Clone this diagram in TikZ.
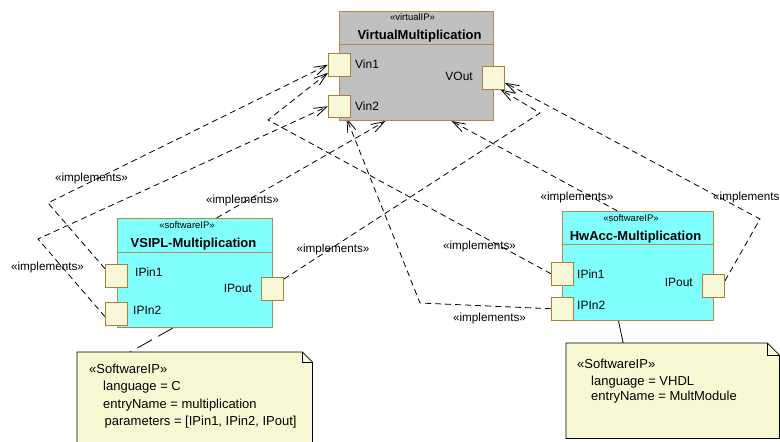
\documentclass[tikz,border=0pt]{standalone}
\usepackage{fontspec}
\setmainfont{Liberation Sans}
\usetikzlibrary{arrows.meta,calc}
\definecolor{boxbrd}{RGB}{176,140,72}
\definecolor{vmgray}{RGB}{192,192,192}
\definecolor{swcyan}{RGB}{128,255,255}
\definecolor{portfill}{RGB}{248,248,216}
\definecolor{portbrd}{RGB}{170,128,56}
\definecolor{notefill}{RGB}{248,248,210}
\pgfdeclarelayer{bg}
\pgfsetlayers{bg,main}
\begin{document}
\begin{tikzpicture}[x=1pt,y=-1pt,
  comp/.style={draw=boxbrd, line width=1pt, rectangle, inner sep=0pt, anchor=north west},
  port/.style={draw=portbrd, fill=portfill, line width=1pt, rectangle, inner sep=0pt,
               minimum width=22pt, minimum height=22.5pt, anchor=north west},
  dep/.style={draw=black, line width=0.8pt, dash pattern=on 6pt off 4pt,
              -{Straight Barb[length=13pt,width=8.5pt,line width=0.8pt]}},
  nline/.style={draw=black, line width=0.8pt},
  stereo/.style={inner sep=0pt, font=\fontsize{9.5}{11}\selectfont},
  title/.style={inner sep=0pt, font=\fontsize{13}{15}\selectfont\bfseries},
  plbl/.style={inner sep=0pt, font=\fontsize{12}{14}\selectfont},
  impl/.style={inner sep=0pt, font=\fontsize{11.7}{14}\selectfont},
  ntxt/.style={inner sep=0pt, font=\fontsize{13}{15}\selectfont, anchor=base west},
  notebox/.style={draw=none, rectangle, inner sep=0pt, anchor=north west}
]
\useasboundingbox (0,0) rectangle (780,442);
\clip (0,0) rectangle (780,442);

% ---------- components ----------
\node[comp, fill=vmgray, minimum width=154pt, minimum height=109pt] (vm) at (339,11) {};
\draw[boxbrd, line width=1pt] ($(vm.north west)+(0,33)$) -- ($(vm.north east)+(0,33)$);
\node[comp, fill=swcyan, minimum width=155pt, minimum height=109pt] (vsipl) at (117,218) {};
\draw[boxbrd, line width=1pt] ($(vsipl.north west)+(0,34)$) -- ($(vsipl.north east)+(0,34)$);
\node[comp, fill=swcyan, minimum width=151pt, minimum height=109pt] (hw) at (562,211) {};
\draw[boxbrd, line width=1pt] ($(hw.north west)+(0,33)$) -- ($(hw.north east)+(0,33)$);

% ---------- ports ----------
\node[port] (vin1) at (328,53) {};
\node[port] (vin2) at (328,94.5) {};
\node[port] (vout) at (482,66) {};
\node[port] (sin1) at (105,264) {};
\node[port] (sin2) at (105,302) {};
\node[port] (sout) at (261,277) {};
\node[port] (hin1) at (551,262) {};
\node[port] (hin2) at (551,297) {};
\node[port] (hout) at (702,274) {};

% ---------- notes ----------
\node[notebox, minimum width=235pt, minimum height=100pt] (n1) at (77,352) {};
\node[notebox, minimum width=213pt, minimum height=95pt] (n2) at (566,343) {};
\draw[nline, fill=notefill] (n1.south west) -- (n1.north west) -- ($(n1.north east)+(-10,0)$)
   -- ($(n1.north east)+(0,10)$) -- (n1.south east);
\draw[nline] ($(n1.north east)+(-10,0)$) -- ($(n1.north east)+(-10,10)$) -- ($(n1.north east)+(0,10)$);
\draw[nline, fill=notefill] (n2.south west) -- (n2.north west) -- ($(n2.north east)+(-12,0)$)
   -- ($(n2.north east)+(0,12)$) -- (n2.south east) -- cycle;
\draw[nline] ($(n2.north east)+(-12,0)$) -- ($(n2.north east)+(-12,12)$) -- ($(n2.north east)+(0,12)$);

% ---------- connectors (behind boxes) ----------
\coordinate (a1) at (48,203);
\coordinate (b1) at (38,239);
\coordinate (c1) at (268,120);
\coordinate (d1) at (420,303);
\coordinate (e1) at (540,113);
\coordinate (f1) at (760,219);

\begin{pgfonlayer}{bg}
\draw[dep] ([yshift=7pt]sin1.west) -- (a1) -- (vin1.west);
\draw[dep] ([yshift=-3pt]sin2.west) -- (b1) -- (vin2.west);
\draw[dep] (hin1.west) -- (c1) -- ([yshift=-8pt]vin1.west);
\draw[dep] (hin2.west) -- (d1) -- ([xshift=7pt]vin2.south);
\draw[dep] ([yshift=-2pt]sout.north east) -- (e1) -- ([xshift=7pt]vout.south);
\draw[dep] ([yshift=5pt]hout.east) -- (f1) -- ([yshift=-5pt]vout.east);
\draw[dep] ([xshift=21.5pt]vsipl.north) -- ([xshift=-31pt]vm.south);
\draw[dep] ([xshift=-20.5pt]hw.north) -- ([xshift=35pt]vm.south);
\draw[nline, dash pattern=on 17pt off 7pt] ([xshift=-22pt]vsipl.south) -- ([xshift=-64.5pt]n1.north);
\draw[nline] ([xshift=-19.5pt]hw.south) -- ([xshift=-49.5pt]n2.north);
\end{pgfonlayer}

% ---------- texts ----------
\node[stereo, anchor=base] (t1) at (412.5,20.5) {«virtualIP»};
\node[title, anchor=base] (t2) at (419.5,39.7) {VirtualMultiplication};
\node[plbl, anchor=base west] (t3) at (355,68.3) {Vin1};
\node[plbl, anchor=base west] (t4) at (355,110.3) {Vin2};
\node[plbl, anchor=base east] (t5) at (473,80.3) {VOut};

\node[stereo, anchor=base] (t6) at (187,228.4) {«softwareIP»};
\node[title, anchor=base] (t7) at (193.5,247.7) {VSIPL-Multiplication};
\node[plbl, anchor=base west] (t8) at (135,276.3) {IPin1};
\node[plbl, anchor=base west] (t9) at (133,314.3) {IPIn2};
\node[plbl, anchor=base east] (t10) at (252,292.3) {IPout};

\node[stereo, anchor=base] (t11) at (631,221.4) {«softwareIP»};
\node[title, anchor=base] (t12) at (635.5,240.7) {HwAcc-Multiplication};
\node[plbl, anchor=base west] (t13) at (577,278.3) {IPin1};
\node[plbl, anchor=base west] (t14) at (577,309.3) {IPIn2};
\node[plbl, anchor=base east] (t15) at (693,286.3) {IPout};

\node[impl, anchor=base] (l1) at (91.5,181.3) {«implements»};
\node[impl, anchor=base] (l2) at (47.5,270.3) {«implements»};
\node[impl, anchor=base] (l3) at (242.5,203.3) {«implements»};
\node[impl, anchor=base] (l4) at (333,252.3) {«implements»};
\node[impl, anchor=base] (l5) at (577,200.3) {«implements»};
\node[impl, anchor=base west] (l6) at (713,200.3) {«implements»};
\node[impl, anchor=base] (l7) at (479.5,249.3) {«implements»};
\node[impl, anchor=base] (l8) at (489.5,321.3) {«implements»};

\node[ntxt] (nt1) at (89,373.6) {«SoftwareIP»};
\node[ntxt] (nt2) at (103,390.6) {language = C};
\node[ntxt] (nt3) at (103,408) {entryName = multiplication};
\node[ntxt] (nt4) at (104.5,425.6) {parameters = [IPin1, IPin2, IPout]};

\node[ntxt] (nt5) at (577,368) {«SoftwareIP»};
\node[ntxt] (nt6) at (591,385.3) {language = VHDL};
\node[ntxt] (nt7) at (591,400.6) {entryName = MultModule};
\end{tikzpicture}
\end{document}
